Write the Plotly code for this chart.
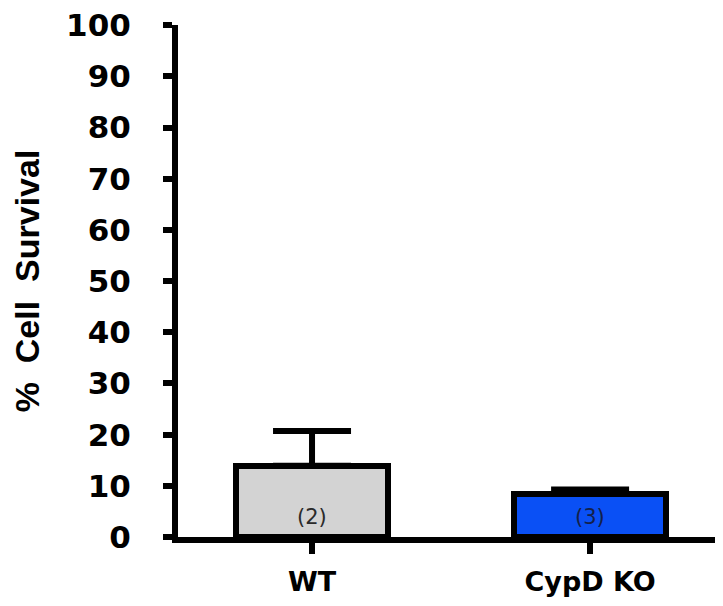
import plotly.graph_objects as go

categories = ["WT", "CypD KO"]
survival = [13.9, 8.45]
error_up = [6.8, 0.85]
n_labels = ["(2)", "(3)"]
bar_colors = ["#d3d3d3", "#0a50f5"]
label_colors = ["#2a2a2a", "#14204a"]
y_ticks = [0, 10, 20, 30, 40, 50, 60, 70, 80, 90, 100]

fig = go.Figure()
fig.add_trace(go.Bar(
    x=categories, y=survival,
    marker=dict(color=bar_colors, line=dict(color="black", width=6)),
    width=0.545,
    error_y=dict(type="data", symmetric=False, array=error_up,
                 arrayminus=[0, 0], color="black", thickness=6, width=39),
))
for c, lab, lc in zip(categories, n_labels, label_colors):
    fig.add_annotation(x=c, y=4.0, text=lab, showarrow=False,
                       font=dict(family="DejaVu Sans", size=21, color=lc))

fig.update_layout(
    width=723, height=606,
    margin=dict(l=170, r=8, t=17, b=77),
    plot_bgcolor="white", paper_bgcolor="white",
    showlegend=False,
    font=dict(family="DejaVu Sans", color="black"),
    bargap=0,
)
fig.update_xaxes(
    range=[-0.482, 1.478], showline=True, linecolor="black", linewidth=6,
    ticks="outside", ticklen=11, tickwidth=6, tickcolor="black",
    ticklabelstandoff=5, automargin=False,
    tickfont=dict(family="DejaVu Sans", size=27, color="black", weight="bold"),
    showgrid=False, zeroline=False,
)
fig.update_yaxes(
    range=[0, 100.05], tickvals=y_ticks, showline=True, linecolor="black", linewidth=6,
    ticks="outside", ticklen=9, tickwidth=6, tickcolor="black",
    ticklabelstandoff=26, ticklabeloverflow="allow", automargin=False,
    tickfont=dict(family="DejaVu Sans", size=31, color="black", weight="bold"),
    title=dict(text="%  Cell  Survival", font=dict(family="Liberation Sans", size=34, color="black", weight="bold"), standoff=30),
    showgrid=False, zeroline=False,
)
fig.write_html("out.html")
